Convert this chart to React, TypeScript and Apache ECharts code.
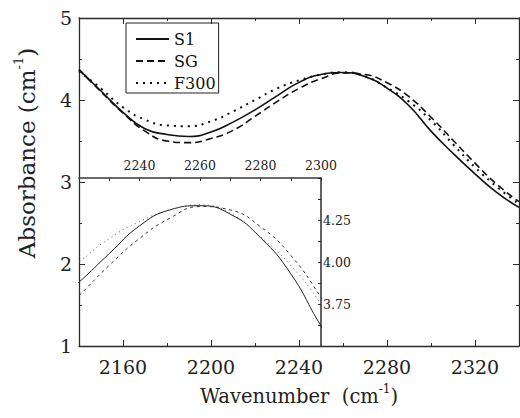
import React, { useEffect, useRef } from "react";
import * as echarts from "echarts";

// Wavenumber grid (cm^-1) and absorbance values
const WAVENUMBERS = [2140, 2150, 2160, 2170, 2180, 2190, 2200, 2210, 2220, 2230, 2240, 2250, 2260, 2270, 2280, 2290, 2300, 2310, 2320, 2330, 2340];
const S1 = [4.37, 4.11, 3.85, 3.65, 3.58, 3.555, 3.61, 3.73, 3.88, 4.05, 4.215, 4.31, 4.335, 4.285, 4.145, 3.93, 3.62, 3.35, 3.1, 2.87, 2.69];
const SG = [4.37, 4.1, 3.84, 3.62, 3.5, 3.48, 3.53, 3.63, 3.8, 3.98, 4.14, 4.26, 4.33, 4.31, 4.21, 4.04, 3.79, 3.51, 3.23, 2.97, 2.76];
const F300 = [4.35, 4.14, 3.91, 3.76, 3.69, 3.68, 3.74, 3.86, 4.0, 4.14, 4.24, 4.31, 4.34, 4.29, 4.15, 3.98, 3.75, 3.46, 3.18, 2.94, 2.73];

const SERIES_NAMES = ["S1", "SG", "F300"];
const MAIN_X_LABELS = [2160, 2200, 2240, 2280, 2320];
const MAIN_Y_LABELS = [1, 2, 3, 4, 5];
const INSET_X_LABELS = [2240, 2260, 2280, 2300];
const INSET_Y_LABELS = [3.75, 4.0, 4.25];

const FONT = "DejaVu Serif";
const AXIS_COLOR = "#2b2b2b";

export default function App() {
  const ref = useRef<HTMLDivElement>(null);

  useEffect(() => {
    document.body.style.margin = "0";
    const chart = echarts.init(ref.current as HTMLDivElement, null, {
      renderer: "svg",
      width: 520,
      height: 418,
    });
    const pts = (ys: number[]) => WAVENUMBERS.map((x, i) => [x, ys[i]]);
    const axLine = { show: true, onZero: false, lineStyle: { color: AXIS_COLOR, width: 1.3 } };
    const noLine = { show: false, onZero: false };
    const tickStyle = { color: AXIS_COLOR, width: 1 };
    const mainX = { gridIndex: 0, type: "value", min: 2140, max: 2340, splitLine: { show: false } };
    const mainY = { gridIndex: 0, type: "value", min: 1, max: 5, splitLine: { show: false } };
    const labelStyle = { fontFamily: FONT, color: "#222" };
    const plain = (v: number) => String(v);

    chart.setOption({
      animation: false,
      backgroundColor: "#fff",
      textStyle: { fontFamily: FONT },
      grid: [
        { left: 79, top: 18, width: 440, height: 328, outerBoundsMode: "none" },
        { left: 79, top: 178, width: 242, height: 168, outerBoundsMode: "none" },
      ],
      legend: {
        data: SERIES_NAMES,
        orient: "vertical",
        left: 126,
        top: 23,
        padding: [8, 3, 2, 9],
        itemGap: 6,
        itemWidth: 33,
        itemHeight: 14,
        borderColor: "#222",
        borderWidth: 1,
        itemStyle: { opacity: 0 },
        textStyle: { fontFamily: FONT, fontSize: 16, color: "#111" },
      },
      xAxis: [
        { ...mainX, position: "bottom", interval: 20, axisLine: axLine, axisTick: { inside: true, length: 3, lineStyle: tickStyle }, axisLabel: { show: false } },
        { ...mainX, position: "bottom", axisLine: noLine, axisTick: { inside: true, length: 6, customValues: MAIN_X_LABELS, lineStyle: tickStyle }, axisLabel: { ...labelStyle, customValues: MAIN_X_LABELS, formatter: plain, fontSize: 19, margin: 11 } },
        { ...mainX, position: "top", interval: 20, axisLine: axLine, axisTick: { inside: true, length: 3, lineStyle: tickStyle }, axisLabel: { show: false } },
        { ...mainX, position: "top", axisLine: noLine, axisTick: { inside: true, length: 6, customValues: MAIN_X_LABELS, lineStyle: tickStyle }, axisLabel: { show: false } },
        {
          gridIndex: 1, type: "value", min: 2220, max: 2300, interval: 10, position: "top",
          splitLine: { show: false },
          axisLine: { show: true, onZero: false, lineStyle: { color: "#3a3a3a", width: 1.6 } },
          axisTick: { inside: true, length: 3, lineStyle: tickStyle },
          axisLabel: { ...labelStyle, customValues: INSET_X_LABELS, formatter: plain, fontSize: 12.5, margin: 6 },
        },
      ],
      yAxis: [
        { ...mainY, position: "left", interval: 0.5, axisLine: axLine, axisTick: { inside: true, length: 3, lineStyle: tickStyle }, axisLabel: { show: false } },
        { ...mainY, position: "left", axisLine: noLine, axisTick: { inside: true, length: 6, customValues: MAIN_Y_LABELS, lineStyle: tickStyle }, axisLabel: { ...labelStyle, customValues: MAIN_Y_LABELS, formatter: plain, fontSize: 19, margin: 7 } },
        { ...mainY, position: "right", interval: 0.5, axisLine: axLine, axisTick: { inside: true, length: 3, lineStyle: tickStyle }, axisLabel: { show: false } },
        { ...mainY, position: "right", axisLine: noLine, axisTick: { inside: true, length: 6, customValues: MAIN_Y_LABELS, lineStyle: tickStyle }, axisLabel: { show: false } },
        {
          gridIndex: 1, type: "value", min: 3.5, max: 4.5, interval: 0.125, position: "right",
          splitLine: { show: false },
          axisLine: { show: true, onZero: false, lineStyle: { color: "#3a3a3a", width: 1.6 } },
          axisTick: { inside: true, length: 3, lineStyle: tickStyle },
          axisLabel: { ...labelStyle, customValues: INSET_Y_LABELS, fontSize: 12.5, margin: 2, formatter: (v: number) => v.toFixed(2) },
        },
      ],
      series: [
        { name: "S1", type: "line", xAxisIndex: 0, yAxisIndex: 0, data: pts(S1), smooth: 0.5, symbol: "none", lineStyle: { color: "#111", width: 1.6, type: "solid" }, itemStyle: { color: "#111" } },
        { name: "SG", type: "line", xAxisIndex: 0, yAxisIndex: 0, data: pts(SG), smooth: 0.5, symbol: "none", lineStyle: { color: "#111", width: 1.6, type: [7, 4] }, itemStyle: { color: "#111" } },
        { name: "F300", type: "line", xAxisIndex: 0, yAxisIndex: 0, data: pts(F300), smooth: 0.5, symbol: "none", lineStyle: { color: "#111", width: 2, type: [2, 5] }, itemStyle: { color: "#111" } },
        { name: "S1 (inset)", type: "line", xAxisIndex: 4, yAxisIndex: 4, data: pts(S1), smooth: 0.5, symbol: "none", lineStyle: { color: "#222", width: 1, type: "solid" } },
        { name: "SG (inset)", type: "line", xAxisIndex: 4, yAxisIndex: 4, data: pts(SG), smooth: 0.5, symbol: "none", lineStyle: { color: "#333", width: 1, type: [3, 3.5] } },
        { name: "F300 (inset)", type: "line", xAxisIndex: 4, yAxisIndex: 4, data: pts(F300), smooth: 0.5, symbol: "none", lineStyle: { color: "#555", width: 1, type: [1, 3.5] } },
      ],
      graphic: [
        {
          type: "text",
          x: 299,
          y: 396,
          style: {
            text: "{a|Wavenumber  (cm}{s|-1}{a|)}",
            align: "center",
            verticalAlign: "middle",
            rich: {
              a: { fontFamily: FONT, fontSize: 19.5, lineHeight: 26, fill: "#222" },
              s: { fontFamily: FONT, fontSize: 12, lineHeight: 12, verticalAlign: "top", fill: "#222" },
            },
          },
        },
        {
          type: "text",
          x: 27,
          y: 153,
          rotation: Math.PI / 2,
          style: {
            text: "{a|Absorbance (cm}{s|-1}{a|)}",
            align: "center",
            verticalAlign: "middle",
            rich: {
              a: { fontFamily: FONT, fontSize: 23, lineHeight: 30, fill: "#222" },
              s: { fontFamily: FONT, fontSize: 13, lineHeight: 13, verticalAlign: "top", fill: "#222" },
            },
          },
        },
      ],
    });
    return () => chart.dispose();
  }, []);

  return (
    <div
      ref={ref}
      style={{ width: 520, height: 418, position: "absolute", left: 0, top: 0, background: "#fff" }}
    />
  );
}
